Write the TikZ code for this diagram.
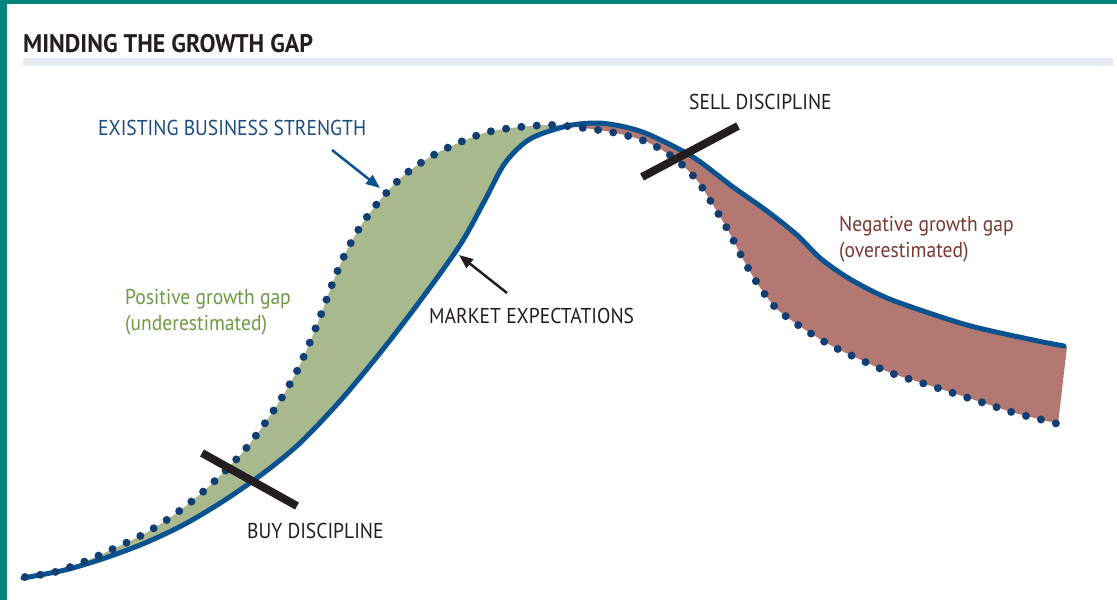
\documentclass[tikz,border=0pt]{standalone}
\usepackage{fontspec}
\setmainfont{PT Sans}
\newfontfamily\labfont{PT Sans}[FakeStretch=0.91]
\newfontfamily\titlefont{PT Sans}[FakeStretch=0.94]
\usetikzlibrary{arrows.meta}
\definecolor{teal}{HTML}{00837A}
\definecolor{titlebar}{HTML}{E7EBF3}
\definecolor{ink}{HTML}{231F20}
\definecolor{solidblue}{HTML}{0B5290}
\definecolor{dotblue}{HTML}{123F73}
\definecolor{greenfill}{HTML}{A8B98E}
\definecolor{redfill}{HTML}{B37872}
\definecolor{navytext}{HTML}{1E4D7B}
\definecolor{greentext}{HTML}{6E9B45}
\definecolor{redtext}{HTML}{7A3A33}
\tikzset{
  lab/.style={inner sep=0pt, anchor=base west, font=\labfont\fontsize{21.5}{26}\selectfont},
  solidcurve/.style={draw=solidblue, line width=5pt, line cap=round},
  dotcurve/.style={draw=dotblue, line width=8pt, line cap=round, dash pattern=on 0pt off 15.4pt},
  disciplinebar/.style={draw=ink, line width=8pt},
  pointer/.style={line width=2.5pt, -{Triangle[length=14pt,width=11pt]}}
}
\begin{document}
\begin{tikzpicture}[x=1pt,y=-1pt]
\useasboundingbox (0,0) rectangle (1117,600);
% frame
\fill[white] (0,0) rectangle (1117,600);
\fill[teal] (0,0) rectangle (7,600);
\fill[teal] (0,0) rectangle (1117,4);
% title
\node[inner sep=0pt, anchor=base west, text=ink, font=\titlefont\bfseries\fontsize{25.5}{30}\selectfont] (title) at (23,52) {MINDING THE GROWTH GAP};
\fill[titlebar] (23,58) rectangle (1113,66);
% fills between curves
\begin{scope}
\clip (0,0) rectangle (570,600);
\fill[greenfill] plot[smooth] coordinates {(25,577) (55,572) (86,561) (115,548) (144,534) (171,517) (197,497) (221,475) (243,452) (263,426) (281,399) (297,371) (310,342) (322,312) (333,282) (346,252) (362,224) (381,199) (403,176) (430,157) (458,143) (488,132) (520,127) (552,125) (584,128) (616,133) (647,142) (674,158) (696,179) (713,205) (729,232) (743,259) (759,286) (777,309) (804,329) (832,346) (861,360) (891,373) (922,383) (953,393) (984,403) (1015,413) (1047,421) (1058,424)}
 -- (1067,347) -- plot[smooth] coordinates {(1064,346) (1033,340) (967,325) (900,303) (872,291) (845,276) (820,258) (797,235) (767,211) (733,187) (693,157) (650,135) (625,127) (598,123) (567,126) (530,139) (505,163) (485,200) (460,245) (420,301) (380,353) (340,401) (300,443) (265,472) (225,500) (185,524) (145,543) (105,558) (65,570) (23,578)} -- cycle;
\end{scope}
\begin{scope}
\clip (570,0) rectangle (1117,600);
\fill[redfill] plot[smooth] coordinates {(25,577) (55,572) (86,561) (115,548) (144,534) (171,517) (197,497) (221,475) (243,452) (263,426) (281,399) (297,371) (310,342) (322,312) (333,282) (346,252) (362,224) (381,199) (403,176) (430,157) (458,143) (488,132) (520,127) (552,125) (584,128) (616,133) (647,142) (674,158) (696,179) (713,205) (729,232) (743,259) (759,286) (777,309) (804,329) (832,346) (861,360) (891,373) (922,383) (953,393) (984,403) (1015,413) (1047,421) (1058,424)}
 -- (1067,347) -- plot[smooth] coordinates {(1064,346) (1033,340) (967,325) (900,303) (872,291) (845,276) (820,258) (797,235) (767,211) (733,187) (693,157) (650,135) (625,127) (598,123) (567,126) (530,139) (505,163) (485,200) (460,245) (420,301) (380,353) (340,401) (300,443) (265,472) (225,500) (185,524) (145,543) (105,558) (65,570) (23,578)} -- cycle;
\end{scope}
% market expectations (solid)
\draw[solidcurve] plot[smooth] coordinates {(23,578) (65,570) (105,558) (145,543) (185,524) (225,500) (265,472) (300,443) (340,401) (380,353) (420,301) (460,245) (485,200) (505,163) (530,139) (567,126) (598,123) (625,127) (650,135) (693,157) (733,187) (767,211) (797,235) (820,258) (845,276) (872,291) (900,303) (967,325) (1033,340) (1064,346)};
% existing business strength (dotted)
\draw[dotcurve] plot[smooth] coordinates {(25,577) (55,572) (86,561) (115,548) (144,534) (171,517) (197,497) (221,475) (243,452) (263,426) (281,399) (297,371) (310,342) (322,312) (333,282) (346,252) (362,224) (381,199) (403,176) (430,157) (458,143) (488,132) (520,127) (552,125) (584,128) (616,133) (647,142) (674,158) (696,179) (713,205) (729,232) (743,259) (759,286) (777,309) (804,329) (832,346) (861,360) (891,373) (922,383) (953,393) (984,403) (1015,413) (1047,421) (1058,424)};
% discipline bars
\coordinate (buyA) at (202,453);
\coordinate (buyB) at (297,506);
\coordinate (sellA) at (642,177);
\coordinate (sellB) at (738,126);
\draw[disciplinebar] (buyA) -- (buyB);
\draw[disciplinebar] (sellA) -- (sellB);
% labels
\node[lab, text=navytext] (ebs) at (98,135) {EXISTING BUSINESS STRENGTH};
\node[lab, text=greentext, align=left] (pos) at (125,330) {Positive growth gap\\(underestimated)};
\node[lab, text=ink] (mkt) at (429,323) {MARKET EXPECTATIONS};
\node[lab, text=ink] (sell) at (689,109) {SELL DISCIPLINE};
\node[lab, text=ink] (buy) at (247,538) {BUY DISCIPLINE};
\node[lab, text=redtext, align=left] (neg) at (839,257) {Negative growth gap\\(overestimated)};
% pointers
\coordinate (ebsTail) at (332,150);
\coordinate (ebsTip) at (380,188);
\coordinate (mktTail) at (507,293);
\coordinate (mktTip) at (459,255);
\draw[pointer, draw=solidblue, fill=solidblue] (ebsTail) -- (ebsTip);
\draw[pointer, draw=ink, fill=ink] (mktTail) -- (mktTip);
\end{tikzpicture}
\end{document}
